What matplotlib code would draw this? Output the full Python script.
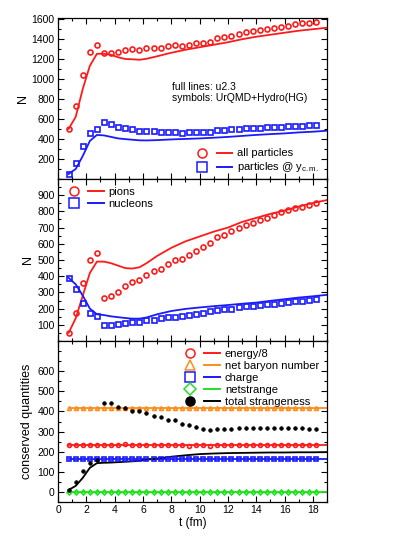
import matplotlib
matplotlib.use("Agg")
import matplotlib.pyplot as plt
from matplotlib.lines import Line2D
from matplotlib.legend_handler import HandlerTuple
from matplotlib.ticker import MultipleLocator
import numpy as np

plt.rcParams['font.family'] = ['Liberation Sans', 'DejaVu Sans']
plt.rcParams['mathtext.fontset'] = 'custom'
plt.rcParams['mathtext.rm'] = 'Liberation Sans'
plt.rcParams['mathtext.it'] = 'Liberation Sans'

# symbol times (fm)
t_sym = [0.75 + 0.5 * i for i in range(36)]

# ---- panel 1: all particles / particles @ y_cm ----
all_sym = [500, 725, 1040, 1270, 1340, 1260, 1260, 1265, 1290, 1295, 1290, 1305,
           1310, 1310, 1330, 1340, 1325, 1340, 1360, 1360, 1370, 1405, 1415, 1430,
           1445, 1465, 1475, 1490, 1495, 1510, 1520, 1525, 1545, 1555, 1560, 1570]
ycm_sym = [45, 155, 330, 460, 500, 570, 545, 520, 505, 495, 478, 482,
           475, 469, 468, 472, 459, 468, 468, 465, 472, 485, 492, 495,
           498, 505, 508, 508, 515, 515, 518, 525, 528, 532, 535, 540]

t_line = [0.75, 1.25, 1.75, 2.25, 2.75, 3.25, 3.75, 4.25, 4.75, 5.25, 5.75, 6.25,
          7.0, 8.0, 9.0, 10.0, 11.0, 12.0, 13.0, 14.0, 15.0, 16.0, 17.0, 18.0, 19.0]
all_line = [500, 620, 900, 1130, 1250, 1250, 1240, 1215, 1198, 1195, 1190, 1200,
            1225, 1260, 1290, 1315, 1340, 1365, 1395, 1420, 1440, 1460, 1480, 1495, 1510]
ycm_line = [50, 100, 230, 380, 440, 435, 420, 405, 398, 392, 386, 385,
            388, 395, 400, 405, 412, 420, 430, 440, 448, 455, 465, 472, 482]

# ---- panel 2: pions / nucleons ----
pion_sym = [50, 175, 360, 500, 545, 268, 278, 303, 340, 365, 377, 408,
            433, 445, 476, 497, 508, 531, 553, 581, 604, 641, 657, 678,
            695, 716, 730, 748, 762, 777, 795, 806, 818, 830, 842, 850]
nucl_sym = [390, 320, 235, 175, 153, 97, 97, 105, 110, 118, 118, 128,
            128, 140, 148, 150, 157, 163, 166, 172, 186, 190, 196, 200,
            207, 213, 218, 222, 226, 230, 235, 240, 245, 250, 255, 260]
pion_line = [50, 140, 280, 420, 490, 490, 480, 465, 450, 447, 455, 480,
             525, 575, 615, 645, 675, 700, 735, 760, 785, 805, 830, 852, 870]
nucl_line = [390, 350, 280, 200, 165, 160, 152, 147, 142, 138, 138, 145,
             165, 185, 198, 207, 215, 222, 230, 237, 248, 258, 268, 276, 285]

# ---- panel 3: conserved quantities ----
energy_sym = [235, 235, 235, 235, 235, 235, 235, 235, 236, 235, 235, 235,
              235, 235, 235, 234, 232, 230, 234, 233, 230, 232, 234, 235,
              235, 235, 235, 235, 235, 235, 235, 235, 235, 235, 235, 235]
baryon_sym = [415] * 36
charge_sym = [165] * 36
netstr_sym = [0] * 36
totstr_sym = [12, 50, 103, 143, 160, 440, 443, 423, 417, 402, 404, 390,
              378, 371, 357, 357, 339, 335, 325, 313, 307, 312, 314, 315,
              316, 316, 316, 316, 316, 316, 316, 316, 316, 316, 315, 315]
energy_line = [235] * 25
baryon_line = [415] * 25
charge_line = [165] * 25
netstr_line = [0] * 25
totstr_line = [10, 30, 70, 120, 143, 145, 146, 148, 150, 152, 155, 160,
               166, 175, 182, 188, 191, 193, 194, 195, 196, 196, 197, 197, 198]

RED = '#ff1a1a'
BLUE = '#1a1aff'
ORANGE = '#ff8c1a'
GREEN = '#22e022'

fig = plt.figure(figsize=(4.15, 5.37), dpi=100)
L, W = 58 / 415, 269 / 415
def ax_at(top_px, bot_px):
    return fig.add_axes([L, 1 - bot_px / 537, W, (bot_px - top_px) / 537])

ax1 = ax_at(17.5, 179)
ax2 = ax_at(179, 341)
ax3 = ax_at(341, 502)

FS = 7.5
LFS = 8.5
for ax in (ax1, ax2, ax3):
    ax.set_xlim(0, 19)
    ax.xaxis.set_major_locator(MultipleLocator(2))
    ax.xaxis.set_minor_locator(MultipleLocator(1))
    ax.tick_params(which='both', direction='in', top=True, right=True, labelsize=FS, width=0.8)
    ax.tick_params(which='major', length=4, pad=2.5)
    ax.tick_params(which='minor', length=2)
    for s in ax.spines.values():
        s.set_linewidth(0.9)

ms, mew, lw = 3.6, 1.2, 1.3

# panel 1
ax1.plot(t_line, all_line, color=RED, lw=lw)
ax1.plot(t_line, ycm_line, color=BLUE, lw=lw)
ax1.plot(t_sym, all_sym, 'o', ls='none', mfc='none', mec=RED, ms=ms, mew=mew)
ax1.plot(t_sym, ycm_sym, 's', ls='none', mfc='none', mec=BLUE, ms=ms, mew=mew)
ax1.set_ylim(0, 1612)
ax1.set_yticks([200, 400, 600, 800, 1000, 1200, 1400, 1600])
ax1.yaxis.set_minor_locator(MultipleLocator(100))
ax1.tick_params(labelbottom=False)
ax1.set_ylabel('N', fontsize=LFS + 0.5, labelpad=2)
ax1.text(0.425, 0.6, 'full lines: u2.3\nsymbols: UrQMD+Hydro(HG)', transform=ax1.transAxes,
         fontsize=FS, va='top', ha='left', linespacing=1.1)

def mk_handles(color, marker, filled=False):
    m = Line2D([], [], marker=marker, ls='none', mec=color, mfc=(color if filled else 'none'),
               ms=6.5, mew=1.1)
    l = Line2D([], [], color=color, lw=1.4)
    return (m, l)

hmap = {tuple: HandlerTuple(ndivide=None, pad=0.6)}
leg_kw = dict(frameon=False, fontsize=8, handlelength=3.4, handletextpad=0.45,
              labelspacing=0.18, borderpad=0.2, handler_map=hmap)

ax1.legend([mk_handles(RED, 'o'), mk_handles(BLUE, 's')],
           ['all particles', r'particles @ y$_{\mathrm{c.m.}}$'],
           loc='lower right', bbox_to_anchor=(1.0, -0.02), **leg_kw)

# panel 2
ax2.plot(t_line, pion_line, color=RED, lw=lw)
ax2.plot(t_line, nucl_line, color=BLUE, lw=lw)
ax2.plot(t_sym, pion_sym, 'o', ls='none', mfc='none', mec=RED, ms=ms, mew=mew)
ax2.plot(t_sym, nucl_sym, 's', ls='none', mfc='none', mec=BLUE, ms=ms, mew=mew)
ax2.set_ylim(0, 1000)
ax2.set_yticks([100, 200, 300, 400, 500, 600, 700, 800, 900])
ax2.yaxis.set_minor_locator(MultipleLocator(50))
ax2.tick_params(labelbottom=False)
ax2.set_ylabel('N', fontsize=LFS + 0.5, labelpad=2)
ax2.legend([mk_handles(RED, 'o'), mk_handles(BLUE, 's')], ['pions', 'nucleons'],
           loc='upper left', bbox_to_anchor=(0.0, 1.0), **leg_kw)

# panel 3
ms3 = 2.8
ax3.plot(t_line, baryon_line, color=ORANGE, lw=lw)
ax3.plot(t_line, energy_line, color=RED, lw=lw)
ax3.plot(t_line, charge_line, color=BLUE, lw=lw)
ax3.plot(t_line, netstr_line, color=GREEN, lw=lw)
ax3.plot(t_line, totstr_line, color='black', lw=lw)
ax3.plot(t_sym, baryon_sym, '^', ls='none', mfc='none', mec=ORANGE, ms=ms3, mew=mew)
ax3.plot(t_sym, energy_sym, 'o', ls='none', mfc='none', mec=RED, ms=ms3, mew=mew)
ax3.plot(t_sym, charge_sym, 's', ls='none', mfc='none', mec=BLUE, ms=ms3, mew=mew)
ax3.plot(t_sym, netstr_sym, 'D', ls='none', mfc='none', mec=GREEN, ms=ms3 - 0.3, mew=mew)
ax3.plot(t_sym, totstr_sym, 'o', ls='none', mfc='black', mec='black', ms=2.6, mew=0.5)
ax3.set_ylim(-50, 750)
ax3.set_yticks([0, 100, 200, 300, 400, 500, 600])
ax3.yaxis.set_minor_locator(MultipleLocator(50))
ax3.set_ylabel('conserved quantities', fontsize=LFS + 0.5, labelpad=3)
ax3.set_xlabel('t (fm)', fontsize=LFS, labelpad=1)
ax3.legend([mk_handles(RED, 'o'), mk_handles(ORANGE, '^'), mk_handles(BLUE, 's'),
            mk_handles(GREEN, 'D'), mk_handles('black', 'o', filled=True)],
           ['energy/8', 'net baryon number', 'charge', 'netstrange', 'total strangeness'],
           loc='upper right', bbox_to_anchor=(1.0, 1.0), **leg_kw)

fig.savefig('out.png', dpi=100)
